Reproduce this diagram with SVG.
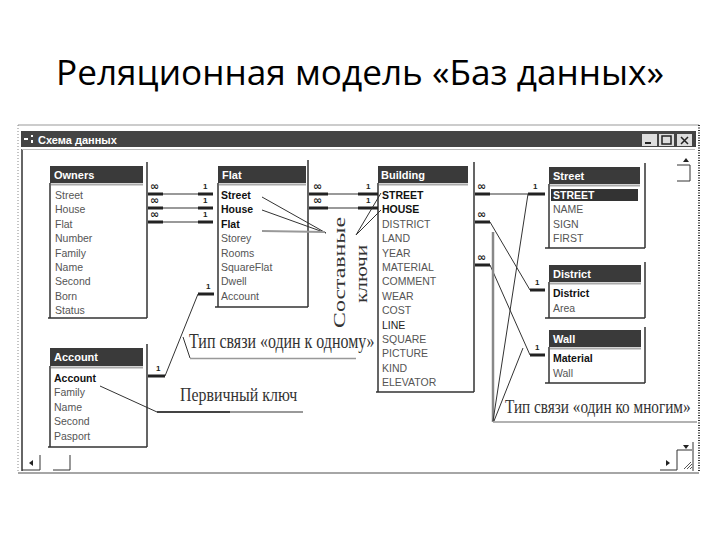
<svg xmlns="http://www.w3.org/2000/svg" width="720" height="540" viewBox="0 0 720 540">
<style>
.win{fill:#444}
.ttl{fill:#3a3a3a}
.tt{font-family:"Liberation Sans",Arial,sans-serif;font-size:11px;font-weight:bold;fill:#fff}
.it{font-family:"Liberation Sans",Arial,sans-serif;font-size:10.5px;fill:#555}
.bi{font-family:"Liberation Sans",Arial,sans-serif;font-size:10.5px;fill:#111;font-weight:bold}
.frame{stroke:#333;stroke-width:1.5;fill:none}
.shadow{stroke:#aaa;stroke-width:2}
.rel{stroke:#999;stroke-width:2;fill:none}
.hv{stroke:#222;stroke-width:3;fill:none}
.thin{stroke:#333;stroke-width:1;fill:none}
.lab{font-family:"Liberation Sans",Arial,sans-serif;font-size:8px;font-weight:bold;fill:#222}
.inf{font-family:"DejaVu Sans",sans-serif;font-size:11px;font-weight:bold;fill:#222}
.note{font-family:"Liberation Serif","Times New Roman",serif;fill:#333}
</style>
<rect width="720" height="540" fill="#fff"/>
<text x="360" y="85" text-anchor="middle" font-family="'Open Sans','Noto Sans',sans-serif" font-size="34" fill="#000" textLength="608" lengthAdjust="spacingAndGlyphs">Реляционная модель  «Баз данных»</text>

<g id="window">
<line x1="18" y1="125" x2="699" y2="125" stroke="#999" stroke-width="1"/>
<line x1="18" y1="125" x2="18" y2="472" stroke="#888" stroke-width="1" stroke-dasharray="1,2"/>
<line x1="699" y1="125" x2="699" y2="472" stroke="#333" stroke-width="2" stroke-dasharray="1,1.5"/>
<line x1="18" y1="473" x2="699" y2="473" stroke="#888" stroke-width="1.5"/>
<rect x="21" y="131" width="675" height="16" class="win"/>
<rect x="24" y="138" width="4" height="2" fill="#fff"/>
<rect x="31" y="135" width="2" height="2" fill="#fff"/>
<rect x="31" y="140" width="2" height="3" fill="#fff"/>
<text x="38" y="143.5" class="tt">Схема данных</text>
<rect x="642" y="134" width="15" height="12" fill="#ddd"/>
<line x1="645" y1="143" x2="651" y2="143" stroke="#222" stroke-width="2"/>
<rect x="659" y="134" width="15" height="12" fill="#ddd"/>
<rect x="662" y="136" width="9" height="8" fill="none" stroke="#222" stroke-width="1.5"/>
<rect x="677" y="134" width="15" height="12" fill="#ddd"/>
<path d="M681 137 L688 144 M688 137 L681 144" stroke="#222" stroke-width="1.5"/>
<line x1="22" y1="149" x2="22" y2="471" stroke="#333" stroke-width="1.5"/>
<line x1="22" y1="149.5" x2="695" y2="149.5" stroke="#bbb" stroke-width="1"/>
<path d="M683 162 L686 158 L689 162 Z" fill="#222"/>
<path d="M677 165 L690 165 L690 181 L677 181" class="thin"/>
<path d="M693 442 L693 471" class="thin"/>
<path d="M683 445 L686 449 L689 445 Z" fill="#222"/>
<path d="M677 450 L692 450 M677 450 L677 470 L660 470" class="thin"/>
<path d="M666 460 L670 463 L666 466 Z" fill="#222"/>
<path d="M684 469 L691 462 M687 469 L692 464 M690 469 L692 467" stroke="#555" stroke-width="1"/>
<path d="M33 460 L29 463 L33 466 Z" fill="#222"/>
<path d="M22 470 L40 470 L40 455" class="thin"/>
<path d="M53 470 L70 470 L70 455" class="thin"/>
</g>

<g id="owners">
<rect x="50" y="166" width="93" height="17" class="ttl"/>
<line x1="51" y1="184.5" x2="143" y2="184.5" class="shadow"/>
<path d="M50 183 V318 M147 162 V318 M48 318 H147" class="frame"/>
<text x="54" y="178.5" class="tt">Owners</text>
<text class="it" x="55"><tspan x="55" y="199">Street</tspan><tspan x="55" y="213.4">House</tspan><tspan x="55" y="227.8">Flat</tspan><tspan x="55" y="242.2">Number</tspan><tspan x="55" y="256.6">Family</tspan><tspan x="55" y="271">Name</tspan><tspan x="55" y="285.4">Second</tspan><tspan x="55" y="299.8">Born</tspan><tspan x="55" y="314.2">Status</tspan></text>
</g>

<g id="flat">
<rect x="218" y="166" width="88" height="17" class="ttl"/>
<line x1="219" y1="184.5" x2="306" y2="184.5" class="shadow"/>
<path d="M218 183 V307 M308 160 V307 M215 307 H308" class="frame"/>
<text x="222" y="178.5" class="tt">Flat</text>
<text class="bi"><tspan x="221" y="199">Street</tspan><tspan x="221" y="213.4">House</tspan><tspan x="221" y="227.8">Flat</tspan></text>
<text class="it"><tspan x="221" y="242.2">Storey</tspan><tspan x="221" y="256.6">Rooms</tspan><tspan x="221" y="271">SquareFlat</tspan><tspan x="221" y="285.4">Dwell</tspan><tspan x="221" y="299.8">Account</tspan></text>
</g>

<g id="building">
<rect x="378" y="166" width="90" height="17" class="ttl"/>
<line x1="379" y1="184.5" x2="468" y2="184.5" class="shadow"/>
<path d="M378 183 V392 M474 162 V392 M376 392 H474" class="frame"/>
<text x="381" y="178.5" class="tt">Building</text>
<text class="bi"><tspan x="382" y="199">STREET</tspan><tspan x="382" y="213.4">HOUSE</tspan></text>
<text class="it"><tspan x="382" y="227.8">DISTRICT</tspan><tspan x="382" y="242.2">LAND</tspan><tspan x="382" y="256.6">YEAR</tspan><tspan x="382" y="271">MATERIAL</tspan><tspan x="382" y="285.4">COMMENT</tspan><tspan x="382" y="299.8">WEAR</tspan><tspan x="382" y="314.2">COST</tspan></text>
<text class="it" style="fill:#222"><tspan x="382" y="328.6">LINE</tspan></text>
<text class="it"><tspan x="382" y="343">SQUARE</tspan><tspan x="382" y="357.4">PICTURE</tspan><tspan x="382" y="371.8">KIND</tspan><tspan x="382" y="386.2">ELEVATOR</tspan></text>
</g>

<g id="street">
<rect x="549" y="167" width="91" height="17" class="ttl"/>
<line x1="550" y1="185.5" x2="640" y2="185.5" class="shadow"/>
<path d="M549 184 V248 M645 163 V248 M545 248 H645" class="frame"/>
<text x="553" y="179.5" class="tt">Street</text>
<rect x="551" y="189" width="87" height="12" fill="#333"/>
<text x="553" y="199" class="bi" style="fill:#fff">STREET</text>
<text class="it"><tspan x="553" y="213.4">NAME</tspan><tspan x="553" y="227.8">SIGN</tspan><tspan x="553" y="242.2">FIRST</tspan></text>
</g>

<g id="district">
<rect x="549" y="265" width="92" height="17" class="ttl"/>
<line x1="550" y1="283.5" x2="641" y2="283.5" class="shadow"/>
<path d="M549 282 V318 M645 262 V318 M545 318 H645" class="frame"/>
<text x="553" y="277.5" class="tt">District</text>
<text x="553" y="297" class="bi">District</text>
<text x="553" y="312" class="it">Area</text>
</g>

<g id="wall">
<rect x="549" y="330" width="92" height="17" class="ttl"/>
<line x1="550" y1="348.5" x2="641" y2="348.5" class="shadow"/>
<path d="M549 347 V383 M645 327 V383 M545 383 H645" class="frame"/>
<text x="553" y="342.5" class="tt">Wall</text>
<text x="553" y="362" class="bi">Material</text>
<text x="553" y="377" class="it">Wall</text>
</g>

<g id="account">
<rect x="50" y="348" width="93" height="18" class="ttl"/>
<line x1="51" y1="367.5" x2="143" y2="367.5" class="shadow"/>
<path d="M50 366 V447 M147 344 V447 M48 447 H147" class="frame"/>
<text x="54" y="361" class="tt">Account</text>
<text x="54" y="382" class="bi">Account</text>
<text class="it"><tspan x="54" y="396.4">Family</tspan><tspan x="54" y="410.8">Name</tspan><tspan x="54" y="425.2">Second</tspan><tspan x="54" y="439.6">Pasport</tspan></text>
</g>

<g id="connectors">
<path d="M148 194 H213 M148 208 H213 M148 222 H213" class="rel"/>
<path d="M148 194 H163 M198 194 H213 M148 208 H163 M198 208 H213 M148 222 H163 M198 222 H213" class="hv"/>
<path d="M309 194 H378 M309 208 H378" class="rel"/>
<path d="M309 194 H328 M358 194 H378 M309 208 H328 M358 208 H378" class="hv"/>
<path d="M475 194 H545" class="rel"/>
<path d="M475 194 H490 M528 194 H545" class="hv"/>
<path d="M490 222 L530 290 M490 265 L530 355" class="thin" stroke="#555"/>
<path d="M475 222 H490 M530 290 H545 M475 265 H490 M530 355 H545" class="hv"/>
<path d="M198 294 L165 376" class="thin" stroke="#555"/>
<path d="M198 294 H214 M148 376 H165" class="hv"/>
<g class="inf">
<text x="150" y="190">∞</text><text x="150" y="204">∞</text><text x="150" y="218">∞</text>
<text x="313" y="190">∞</text><text x="313" y="204">∞</text>
<text x="477" y="190">∞</text><text x="477" y="218">∞</text><text x="477" y="261">∞</text>
</g>
<g class="lab">
<text x="203" y="189">1</text><text x="203" y="203">1</text><text x="203" y="217">1</text>
<text x="366" y="189">1</text><text x="366" y="203">1</text>
<text x="533" y="189">1</text><text x="535" y="285">1</text><text x="535" y="350">1</text>
<text x="206" y="289">1</text><text x="156" y="371">1</text>
</g>
</g>

<g id="annotations">
<path d="M262 197 L326 233 M262 210 L326 233 M381 193 L356 235 M381 210 L356 235" class="thin"/>
<line x1="262" y1="231" x2="325" y2="232" stroke="#999" stroke-width="2"/>
<text class="note" font-size="17" transform="translate(345,328) rotate(-90)" textLength="111" lengthAdjust="spacingAndGlyphs">Составные</text>
<text class="note" font-size="16" transform="translate(367,303) rotate(-90)" textLength="58" lengthAdjust="spacingAndGlyphs">ключи</text>
<path d="M183 337 L190 358" class="thin"/>
<line x1="190" y1="358.5" x2="356" y2="358.5" stroke="#999" stroke-width="1.5"/>
<text class="note" font-size="20" transform="translate(189,348) scale(0.8,1)" textLength="232" lengthAdjust="spacingAndGlyphs">Тип связи «один к одному»</text>
<path d="M100 386 L157 412" class="thin"/>
<line x1="157" y1="412" x2="230" y2="412" stroke="#444" stroke-width="2"/>
<line x1="230" y1="412" x2="303" y2="412" stroke="#999" stroke-width="2"/>
<text class="note" font-size="19" transform="translate(180,401) scale(0.85,1)" textLength="138" lengthAdjust="spacingAndGlyphs">Первичный ключ</text>
<line x1="493" y1="232" x2="493" y2="422" stroke="#888" stroke-width="2.5"/>
<path d="M493 421 L528 194 M494 421 L523 348" class="thin"/>
<line x1="493" y1="422" x2="697" y2="422" stroke="#999" stroke-width="1.5"/>
<text class="note" font-size="19" transform="translate(505,413) scale(0.8,1)" textLength="232" lengthAdjust="spacingAndGlyphs">Тип связи «один ко многим»</text>
</g>
</svg>
